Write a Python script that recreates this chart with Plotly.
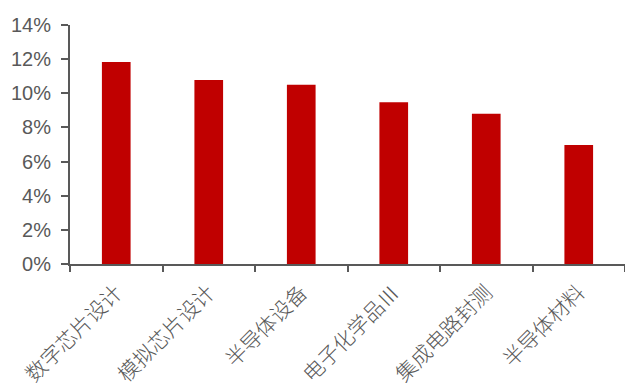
import plotly.graph_objects as go

categories = ["数字芯片设计", "模拟芯片设计", "半导体设备", "电子化学品Ⅲ", "集成电路封测", "半导体材料"]
values = [0.1183, 0.1078, 0.1050, 0.0948, 0.0880, 0.0697]
y_ticks = [0, 0.02, 0.04, 0.06, 0.08, 0.10, 0.12, 0.14]

fig = go.Figure(go.Bar(x=categories, y=values, marker_color="#C00000",
                       marker_line_width=0, width=0.31))

font_family = "Liberation Sans, Arial, Noto Sans CJK SC, sans-serif"
fig.update_layout(
    width=625, height=386,
    margin=dict(l=70, r=0, t=25, b=122),
    paper_bgcolor="white", plot_bgcolor="white",
    showlegend=False,
    font=dict(family=font_family, size=20, color="#595959"),
)
fig.update_xaxes(
    showline=True, linecolor="#595959", linewidth=2,
    ticks="outside", ticklen=6, tickcolor="#595959", tickwidth=2,
    tickson="boundaries", tickangle=-45, ticklabelstandoff=6,
    tickfont=dict(family="Noto Sans CJK SC, sans-serif", size=21, color="#595959",
                  weight=300),
    showgrid=False, range=[-0.5, 5.5],
)
fig.update_yaxes(
    range=[0, 0.14], tickvals=y_ticks, tickformat=".0%",
    showline=True, linecolor="#595959", linewidth=2,
    ticks="outside", ticklen=7, tickcolor="#595959", tickwidth=2,
    ticklabelstandoff=6,
    showgrid=False, zeroline=False,
    tickfont=dict(size=20, color="#595959"),
)
fig.write_html("out.html")
